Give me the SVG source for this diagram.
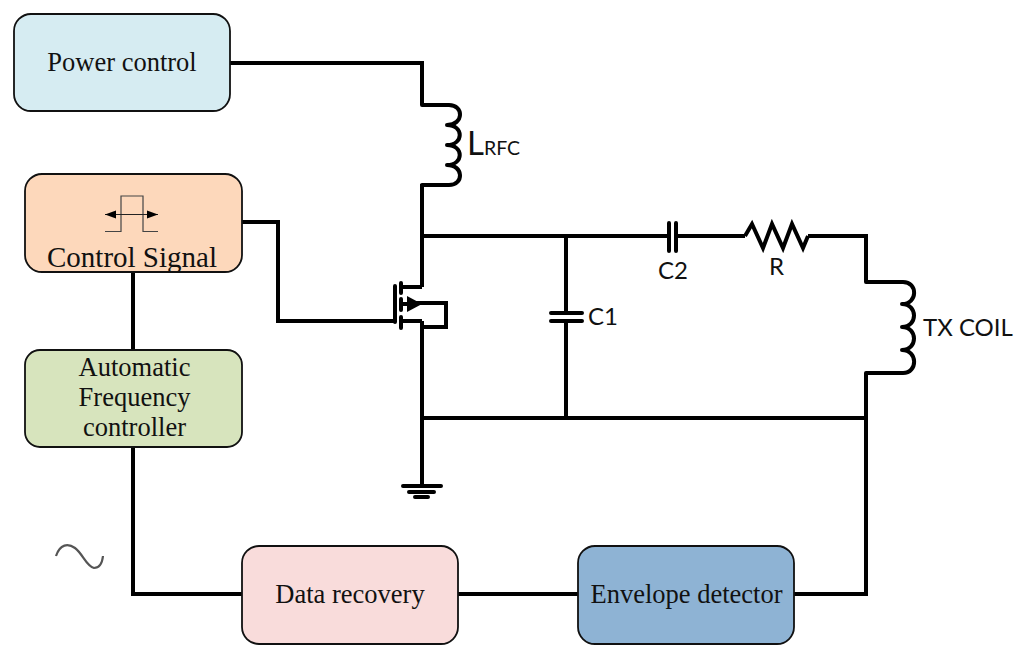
<svg xmlns="http://www.w3.org/2000/svg" width="1024" height="658" viewBox="0 0 1024 658">
<style>
.box{stroke:#111;stroke-width:1.8}
.w{fill:none;stroke:#000;stroke-width:4;stroke-linejoin:miter;stroke-linecap:butt}
.r{fill:none;stroke:#000;stroke-width:4;stroke-linecap:round;stroke-linejoin:round}
.t{font-family:"Liberation Serif",serif;font-size:26.500px;fill:#111;text-anchor:middle}
.s{font-family:Lato,"Noto Sans",sans-serif;font-size:24px;fill:#111}
</style>
<rect width="1024" height="658" fill="#fff"/>
<g id="connectors">
<path class="w" d="M230 63H422V105M422 184V287"/>
<path class="w" d="M422 236H669M676 236H745M808 236H866V282M866 373V594H794"/>
<path class="w" d="M242 222H278V321H395"/>
<path class="w" d="M133 272V350M133 446V594H242M458 594H578"/>
<path class="w" d="M422 321V486M422 418H866M566 236V313M566 321V418"/>
</g>
<g id="power-control"><rect class="box" x="14" y="14" width="216" height="97" rx="17" fill="#d6ecf2"/><text class="t" x="122" y="71">Power control</text></g>
<g id="control-signal"><rect class="box" x="25" y="174" width="217" height="98" rx="17" fill="#fdd8bb"/>
<path d="M105 231.500H121V196H143V231.500H158" fill="none" stroke="#444" stroke-width="1.200"/>
<path d="M105 214.500H158" stroke="#222" stroke-width="1.200"/>
<path d="M105 214.500L116 210.500V218.500ZM158 214.500L147 210.500V218.500Z" fill="#000"/>
<text class="t" x="132" y="267" style="font-size:29px">Control Signal</text></g>
<g id="afc"><rect class="box" x="25" y="350" width="217" height="97" rx="15" fill="#d7e4bd"/><text class="t" x="134.500" y="376">Automatic</text><text class="t" x="134.500" y="406">Frequency</text><text class="t" x="134.500" y="436">controller</text></g>
<g id="data-recovery"><rect class="box" x="242" y="546" width="216" height="98" rx="17" fill="#f9dcdb"/><text class="t" x="350" y="603">Data recovery</text></g>
<g id="envelope-detector"><rect class="box" x="578" y="546" width="216" height="98" rx="17" fill="#8eb3d4"/><text class="t" x="686.500" y="603">Envelope detector</text></g>
<g id="lrfc"><path class="r" d="M422 105H449C464 105 464 125 447 125C464 125 464 145 447 145C464 145 464 165 447 165C464 165 464 185 449 185H422"/><text class="s" x="467" y="155" style="font-size:33px">L<tspan style="font-size:19.500px">RFC</tspan></text></g>
<g id="mosfet">
<path class="r" d="M395 286V322M401 283V293M401 299V310M401 317V328"/>
<path class="w" d="M401 287H422M401 321H422M401 304H408M415 303H446V327H422"/>
<path d="M407 296L422 304L407 312Z" fill="#000"/>
</g>
<g id="ground"><path class="r" d="M403 486H441M409 492H434M415 497H428"/></g>
<g id="c1"><path class="r" d="M551 313H582M551 321H582"/><text class="s" x="588" y="325">C1</text></g>
<g id="c2"><path class="r" d="M669 223V251M676 223V251"/><text class="s" x="658" y="279">C2</text></g>
<g id="r"><path d="M745 236L752 224L763 248L772 224L783 248L792 224L803 248L808 236" fill="none" stroke="#000" stroke-width="4"/><text class="s" x="769" y="275">R</text></g>
<g id="tx-coil"><path class="r" d="M866 282H903C918 282 918 304 902 304C918 304 918 327 902 327C918 327 918 350 902 350C918 350 918 373 903 373H866"/><text class="s" x="923" y="336">TX COIL</text></g>
<g id="sine"><path d="M56 556C60 544 68 543 75 548C83 554 86 566 94 568C98 568 102 565 103 556" fill="none" stroke="#555" stroke-width="2.200"/></g>
</svg>
